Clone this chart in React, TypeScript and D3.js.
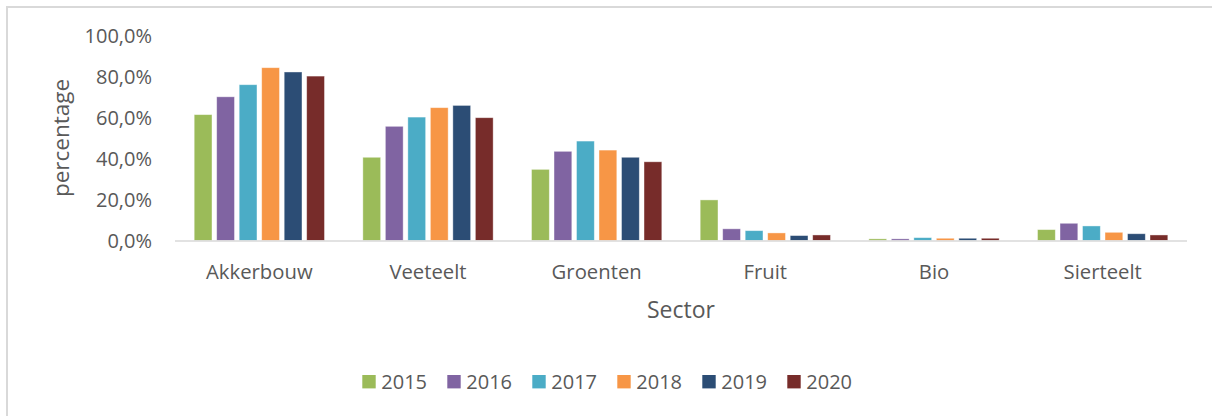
import React from "react";
import * as d3 from "d3";

const categories = ["Akkerbouw", "Veeteelt", "Groenten", "Fruit", "Bio", "Sierteelt"];
const years = ["2015", "2016", "2017", "2018", "2019", "2020"];
const colors = ["#9BBB59", "#8064A2", "#4BACC6", "#F79646", "#2C4D75", "#772C2A"];
const v2015 = [61.4, 40.6, 34.7, 19.8, 0.8, 5.3];
const v2016 = [70.1, 55.7, 43.5, 5.7, 0.8, 8.4];
const v2017 = [76.0, 60.2, 48.5, 4.8, 1.4, 7.1];
const v2018 = [84.3, 64.8, 44.1, 3.7, 1.1, 4.0];
const v2019 = [82.2, 65.9, 40.6, 2.4, 1.1, 3.3];
const v2020 = [80.2, 59.9, 38.4, 2.7, 1.1, 2.7];
const series = [v2015, v2016, v2017, v2018, v2019, v2020];
const yTicks = [0, 20, 40, 60, 80, 100];

const W = 1212;
const H = 416;
const left = 175;
const right = 1187;
const y0 = 240.5;
const yTop = 35.5;
const font = "'Open Sans', 'Noto Sans', sans-serif";
const textColor = "#595959";

export default function App() {
  const x = d3.scaleBand<string>().domain(categories).range([left, right]).paddingInner(0).paddingOuter(0);
  const y = d3.scaleLinear().domain([0, 100]).range([y0, yTop]);
  const step = 22.5;
  const barW = 17.8;
  const inner = d3
    .scaleBand<string>()
    .domain(years)
    .range([0, step * years.length]);
  const fmt = (v: number) => v.toFixed(1).replace(".", ",") + "%";

  const legendStart = 362.3;
  const legendStep = 85;

  return (
    <svg
      width={W}
      height={H}
      style={{ position: "absolute", left: 0, top: 0, background: "#fff" }}
    >
      <rect x={7} y={7} width={W + 10} height={H + 10} fill="#fff" stroke="#D9D9D9" strokeWidth={2} />
      {series.map((vals, si) =>
        categories.map((c, ci) => {
          const cx = (x(c) as number) + x.bandwidth() / 2;
          const gx = cx - (step * years.length) / 2 + (inner(years[si]) as number) + (step - barW) / 2;
          const top = y(vals[ci]);
          return (
            <rect
              key={`${si}-${ci}`}
              x={gx}
              y={top}
              width={barW}
              height={y0 - top}
              fill={colors[si]}
              stroke="#ffffff"
              strokeOpacity={0.5}
              strokeWidth={0.8}
            />
          );
        })
      )}
      <line x1={left} x2={right} y1={y0 + 0.5} y2={y0 + 0.5} stroke="#D9D9D9" strokeWidth={1.5} />
      {yTicks.map((t) => (
        <text
          key={t}
          x={152}
          y={y(t)}
          dy="0.36em"
          textAnchor="end"
          fontFamily={font}
          fontSize={20}
          fill={textColor}
        >
          {fmt(t)}
        </text>
      ))}
      {categories.map((c) => (
        <text
          key={c}
          x={(x(c) as number) + x.bandwidth() / 2}
          y={279}
          textAnchor="middle"
          fontFamily={font}
          fontSize={20.3}
          fill={textColor}
        >
          {c}
        </text>
      ))}
      <text
        x={(left + right) / 2}
        y={318}
        textAnchor="middle"
        fontFamily={font}
        fontSize={23}
        fill={textColor}
      >
        Sector
      </text>
      <text
        transform={`translate(69, 138) rotate(-90)`}
        textAnchor="middle"
        fontFamily={font}
        fontSize={22.5}
        fill={textColor}
      >
        percentage
      </text>
      {years.map((yr, i) => (
        <g key={yr} transform={`translate(${legendStart + i * legendStep}, 375)`}>
          <rect x={0} y={0} width={13.4} height={13.4} fill={colors[i]} />
          <text x={19} y={14} fontFamily={font} fontSize={20} fill={textColor}>
            {yr}
          </text>
        </g>
      ))}
    </svg>
  );
}
